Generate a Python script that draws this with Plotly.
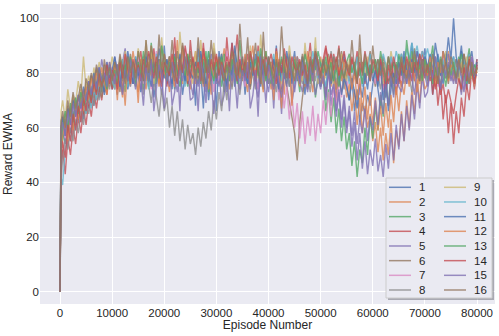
import plotly.graph_objects as go

episodes = [0, 200] + list(range(500, 80001, 500))

labels = [str(i) for i in range(1, 17)]
colors = ["#4C72B0", "#DD8452", "#55A868", "#C44E52", "#8172B3", "#937860",
          "#DA8BC3", "#8C8C8C", "#CCB974", "#64B5CD", "#4C72B0", "#DD8452",
          "#55A868", "#C44E52", "#8172B3", "#937860"]

s1 = [0, 58,
      60, 54, 63, 58, 66, 61, 64, 69, 63, 70,
      67, 73, 68, 75, 71, 78, 72, 76, 81, 74,
      79, 72, 83, 77, 85, 74, 80, 76, 86, 79,
      73, 81, 88, 77, 83, 71, 79, 85, 80, 90,
      76, 82, 74, 87, 79, 84, 72, 80, 86, 78,
      83, 68, 89, 81, 67, 85, 70, 79, 84, 66,
      88, 80, 73, 82, 78, 91, 75, 83, 79, 86,
      72, 81, 77, 85, 80, 74, 87, 79, 83, 76,
      84, 78, 90, 73, 82, 79, 86, 75, 81, 88,
      77, 84, 80, 72, 85, 78, 83, 89, 76, 81,
      79, 74, 86, 81, 77, 71, 83, 78, 87, 75,
      70, 78, 66, 74, 62, 69, 65, 72, 68, 76,
      81, 73, 67, 77, 71, 80, 75, 84, 78, 86,
      80, 88, 76, 83, 91, 79, 85, 77, 82, 89,
      78, 84, 72, 81, 87, 80, 76, 85, 79, 83,
      86, 77, 82, 90, 79, 74, 84, 88, 80, 85]
s2 = [0, 52,
      58, 64, 56, 67, 60, 70, 63, 66, 72, 65,
      71, 68, 76, 70, 79, 73, 77, 82, 75, 80,
      74, 83, 78, 71, 86, 80, 76, 84, 79, 73,
      85, 79, 74, 82, 88, 77, 83, 75, 81, 87,
      80, 73, 84, 78, 92, 81, 76, 85, 79, 74,
      82, 88, 77, 83, 75, 86, 80, 72, 84, 78,
      76, 83, 89, 79, 74, 82, 87, 81, 77, 85,
      79, 73, 84, 90, 78, 83, 76, 81, 88, 80,
      74, 82, 77, 85, 80, 72, 86, 79, 83, 76,
      84, 78, 81, 75, 88, 80, 73, 83, 79, 86,
      78, 72, 80, 75, 83, 70, 77, 73, 79, 71,
      76, 66, 74, 61, 71, 58, 68, 60, 65, 55,
      62, 51, 60, 48, 58, 50, 63, 47, 59, 53,
      66, 55, 70, 60, 74, 65, 78, 69, 81, 74,
      76, 83, 79, 86, 80, 74, 84, 78, 88, 82,
      77, 85, 80, 73, 83, 79, 87, 81, 76, 84]
s3 = [0, 61,
      55, 62, 58, 66, 60, 68, 63, 71, 65, 73,
      69, 75, 71, 78, 73, 80, 76, 74, 82, 77,
      81, 75, 84, 79, 73, 86, 78, 82, 76, 88,
      80, 74, 83, 78, 91, 81, 76, 85, 79, 84,
      77, 86, 80, 74, 83, 78, 89, 82, 75, 81,
      85, 79, 76, 84, 80, 88, 73, 82, 78, 86,
      81, 75, 87, 79, 83, 77, 85, 80, 92, 78,
      84, 80, 75, 83, 78, 86, 81, 74, 88, 79,
      76, 85, 79, 82, 74, 87, 80, 84, 77, 83,
      80, 73, 86, 78, 82, 76, 84, 71, 79, 75,
      78, 66, 74, 62, 71, 58, 67, 55, 64, 52,
      58, 46, 55, 42, 52, 47, 60, 50, 64, 56,
      68, 59, 72, 64, 77, 68, 80, 72, 84, 76,
      85, 79, 83, 76, 88, 81, 78, 86, 80, 84,
      77, 83, 90, 79, 85, 74, 82, 87, 80, 78,
      84, 79, 86, 81, 76, 83, 89, 78, 82, 80]
s4 = [0, 45,
      52, 43, 56, 50, 60, 54, 64, 58, 67, 61,
      70, 64, 73, 67, 75, 70, 78, 72, 80, 74,
      77, 83, 79, 74, 86, 80, 77, 84, 78, 82,
      88, 79, 84, 76, 82, 89, 80, 85, 78, 83,
      75, 84, 80, 93, 78, 83, 90, 81, 76, 92,
      82, 78, 86, 80, 91, 79, 84, 77, 88, 81,
      85, 80, 77, 93, 82, 75, 84, 94, 79, 83,
      78, 87, 81, 84, 76, 90, 82, 79, 86, 80,
      84, 77, 89, 81, 85, 78, 83, 87, 80, 76,
      86, 82, 79, 88, 83, 91, 80, 85, 78, 84,
      81, 89, 84, 78, 87, 82, 90, 79, 85, 83,
      77, 85, 81, 88, 79, 84, 76, 82, 87, 80,
      83, 78, 86, 74, 81, 76, 84, 79, 72, 80,
      75, 83, 78, 86, 81, 77, 84, 80, 88, 82,
      79, 85, 72, 81, 68, 77, 63, 72, 58, 69,
      54, 66, 58, 71, 64, 76, 70, 82, 74, 85]
s5 = [0, 63,
      57, 65, 60, 68, 63, 71, 66, 73, 69, 76,
      72, 79, 75, 82, 77, 85, 79, 74, 83, 78,
      86, 80, 75, 84, 89, 78, 82, 76, 85, 80,
      74, 83, 78, 87, 81, 75, 84, 79, 72, 82,
      77, 85, 68, 73, 84, 66, 88, 76, 82, 70,
      71, 80, 75, 84, 78, 73, 82, 87, 79, 76,
      83, 68, 72, 81, 66, 85, 79, 67, 83, 80,
      86, 79, 75, 82, 77, 71, 80, 84, 78, 73,
      81, 67, 85, 79, 65, 83, 78, 88, 69, 75,
      82, 77, 73, 81, 76, 84, 79, 72, 78, 74,
      80, 71, 82, 68, 76, 64, 73, 60, 70, 58,
      66, 53, 62, 48, 58, 45, 55, 43, 52, 46,
      56, 44, 50, 42, 54, 45, 58, 48, 61, 52,
      65, 55, 68, 59, 72, 63, 76, 67, 79, 71,
      73, 81, 77, 85, 79, 74, 83, 78, 87, 80,
      76, 84, 79, 72, 82, 77, 86, 80, 75, 83]
s6 = [0, 57,
      64, 59, 68, 62, 71, 65, 69, 74, 67, 76,
      72, 79, 74, 81, 76, 71, 83, 77, 80, 75,
      84, 78, 73, 85, 80, 76, 87, 81, 78, 83,
      79, 86, 82, 75, 88, 80, 84, 77, 90, 82,
      85, 79, 92, 81, 76, 86, 80, 83, 77, 88,
      81, 84, 78, 87, 82, 75, 85, 79, 89, 83,
      78, 86, 81, 76, 84, 80, 88, 79, 83, 77,
      85, 80, 74, 83, 78, 87, 81, 76, 84, 79,
      82, 77, 85, 79, 73, 81, 75, 70, 64, 58,
      48, 62, 71, 78, 74, 83, 79, 86, 80, 76,
      84, 79, 87, 82, 77, 85, 80, 88, 81, 78,
      83, 76, 81, 86, 79, 84, 77, 82, 88, 80,
      75, 83, 79, 86, 81, 77, 85, 80, 74, 82,
      87, 80, 84, 78, 83, 89, 81, 76, 85, 79,
      82, 86, 80, 77, 84, 79, 88, 82, 76, 83,
      80, 85, 78, 83, 87, 81, 76, 84, 79, 82]
s7 = [0, 54,
      61, 56, 65, 60, 68, 63, 71, 66, 73, 69,
      76, 71, 78, 73, 81, 75, 79, 84, 77, 82,
      78, 73, 84, 79, 87, 80, 75, 83, 78, 86,
      81, 76, 85, 79, 74, 83, 88, 80, 77, 84,
      79, 86, 81, 75, 84, 78, 82, 89, 80, 76,
      84, 78, 83, 76, 87, 81, 79, 85, 73, 82,
      77, 85, 80, 88, 82, 76, 84, 79, 86, 81,
      75, 83, 78, 86, 80, 74, 82, 77, 85, 79,
      83, 74, 81, 70, 79, 67, 75, 63, 72, 60,
      69, 56, 66, 54, 64, 57, 68, 55, 65, 58,
      70, 61, 73, 64, 76, 68, 79, 71, 82, 74,
      80, 75, 83, 78, 72, 81, 77, 85, 79, 82,
      76, 84, 79, 73, 82, 78, 86, 80, 75, 83,
      78, 85, 81, 76, 84, 79, 88, 82, 77, 84,
      80, 86, 78, 83, 75, 81, 87, 79, 84, 78,
      82, 77, 85, 80, 74, 83, 79, 86, 81, 80]
s8 = [0, 40,
      49, 56, 52, 60, 55, 63, 58, 66, 61, 69,
      65, 72, 68, 75, 70, 77, 73, 79, 74, 81,
      76, 83, 78, 73, 85, 79, 75, 82, 77, 84,
      80, 72, 83, 75, 69, 78, 70, 64, 74, 66,
      71, 60, 68, 57, 66, 55, 63, 52, 61, 54,
      58, 50, 60, 53, 62, 56, 66, 59, 70, 63,
      73, 66, 77, 70, 81, 74, 84, 78, 72, 80,
      82, 77, 85, 79, 74, 83, 78, 86, 80, 76,
      84, 79, 73, 82, 77, 85, 80, 75, 83, 78,
      86, 80, 76, 84, 79, 73, 82, 77, 85, 81,
      78, 84, 79, 88, 81, 76, 85, 80, 74, 83,
      80, 75, 83, 78, 86, 81, 77, 84, 79, 82,
      85, 79, 74, 82, 77, 86, 80, 75, 83, 78,
      81, 76, 85, 79, 73, 82, 78, 87, 80, 84,
      77, 83, 79, 86, 81, 75, 84, 80, 78, 82,
      79, 85, 80, 74, 83, 78, 87, 81, 76, 82]
s9 = [0, 66,
      70, 63, 74, 67, 72, 69, 77, 71, 86, 74,
      79, 73, 82, 76, 84, 78, 75, 83, 79, 86,
      80, 77, 85, 79, 88, 82, 76, 84, 80, 89,
      83, 78, 92, 81, 90, 76, 84, 77, 93, 82,
      79, 86, 81, 84, 78, 95, 83, 80, 87, 81,
      76, 88, 79, 92, 82, 77, 85, 80, 91, 83,
      80, 87, 82, 78, 85, 79, 89, 83, 77, 84,
      81, 76, 90, 80, 84, 78, 94, 82, 79, 85,
      83, 79, 87, 81, 76, 85, 80, 90, 82, 78,
      84, 80, 77, 91, 81, 88, 79, 93, 76, 85,
      82, 78, 86, 80, 75, 84, 79, 87, 81, 77,
      85, 80, 83, 77, 89, 82, 78, 86, 80, 84,
      79, 85, 81, 76, 84, 80, 88, 82, 77, 83,
      86, 81, 78, 85, 80, 87, 82, 76, 84, 79,
      83, 78, 86, 81, 76, 84, 80, 88, 82, 79,
      85, 80, 77, 84, 79, 86, 81, 78, 83, 80]
s10 = [0, 42,
       39, 52, 58, 55, 63, 59, 66, 62, 69, 65,
       72, 67, 74, 70, 77, 73, 79, 75, 81, 77,
       74, 82, 78, 85, 80, 75, 83, 79, 86, 81,
       77, 84, 80, 74, 83, 78, 87, 81, 76, 84,
       80, 86, 79, 83, 77, 85, 81, 75, 84, 79,
       82, 77, 86, 80, 84, 78, 88, 81, 76, 83,
       79, 85, 80, 74, 83, 78, 86, 82, 77, 84,
       81, 76, 85, 79, 83, 88, 80, 75, 84, 78,
       82, 87, 79, 84, 77, 83, 80, 86, 81, 76,
       84, 79, 82, 76, 85, 80, 88, 83, 78, 84,
       80, 75, 83, 78, 86, 81, 77, 84, 79, 82,
       76, 83, 79, 86, 81, 75, 84, 80, 87, 82,
       78, 85, 81, 87, 83, 79, 86, 82, 88, 84,
       87, 83, 89, 85, 91, 86, 90, 84, 88, 85,
       89, 84, 87, 82, 86, 80, 85, 79, 83, 81,
       86, 80, 84, 78, 85, 81, 87, 79, 83, 82]
s11 = [0, 60,
       64, 57, 67, 61, 70, 64, 72, 67, 75, 70,
       77, 72, 80, 75, 82, 77, 73, 84, 78, 81,
       86, 80, 75, 83, 78, 88, 81, 76, 85, 79,
       83, 77, 86, 81, 75, 84, 79, 89, 82, 78,
       85, 80, 76, 84, 79, 87, 82, 77, 86, 80,
       78, 84, 80, 88, 81, 76, 85, 79, 83, 77,
       82, 87, 80, 75, 84, 79, 90, 82, 78, 85,
       80, 76, 84, 79, 87, 81, 75, 83, 78, 86,
       79, 85, 80, 74, 83, 78, 88, 81, 76, 84,
       82, 77, 86, 80, 75, 84, 79, 87, 83, 78,
       85, 79, 83, 76, 81, 74, 80, 72, 78, 75,
       70, 78, 73, 67, 76, 71, 80, 74, 83, 77,
       81, 75, 84, 70, 78, 66, 74, 80, 76, 84,
       79, 86, 81, 77, 85, 80, 88, 83, 78, 86,
       82, 87, 80, 91, 84, 79, 88, 83, 93, 85,
       100, 86, 81, 88, 83, 79, 86, 82, 77, 84]
s12 = [0, 50,
       57, 62, 55, 66, 59, 69, 63, 72, 66, 75,
       70, 78, 73, 80, 75, 82, 77, 72, 84, 79,
       83, 70, 86, 80, 68, 84, 79, 88, 82, 69,
       85, 80, 77, 84, 79, 87, 81, 76, 84, 80,
       78, 86, 81, 75, 83, 79, 89, 82, 77, 85,
       80, 76, 84, 79, 87, 82, 74, 83, 78, 86,
       81, 85, 79, 83, 77, 88, 80, 84, 78, 82,
       87, 81, 76, 84, 80, 86, 79, 73, 82, 78,
       84, 70, 88, 81, 67, 85, 80, 83, 68, 86,
       80, 75, 83, 78, 86, 81, 77, 84, 79, 82,
       76, 83, 79, 85, 80, 74, 82, 77, 84, 79,
       83, 74, 80, 70, 78, 66, 75, 63, 73, 61,
       71, 59, 68, 57, 69, 60, 72, 62, 75, 66,
       77, 72, 81, 75, 84, 78, 73, 82, 77, 85,
       79, 86, 81, 75, 84, 80, 88, 82, 77, 83,
       81, 76, 85, 79, 83, 78, 86, 80, 75, 82]
s13 = [0, 55,
       60, 66, 59, 69, 62, 71, 65, 73, 68, 70,
       75, 70, 78, 73, 81, 76, 79, 74, 83, 78,
       81, 76, 85, 79, 83, 77, 86, 80, 75, 84,
       79, 88, 82, 77, 85, 80, 84, 78, 90, 83,
       77, 84, 80, 86, 81, 75, 83, 79, 87, 82,
       84, 78, 82, 76, 85, 80, 88, 81, 77, 84,
       80, 86, 79, 83, 77, 85, 81, 76, 84, 79,
       83, 78, 87, 81, 85, 79, 89, 82, 77, 84,
       81, 75, 84, 79, 86, 80, 76, 83, 78, 85,
       79, 84, 80, 87, 82, 77, 85, 81, 88, 83,
       80, 86, 79, 84, 77, 82, 75, 81, 78, 84,
       87, 80, 84, 78, 82, 76, 85, 79, 83, 80,
       85, 79, 88, 82, 77, 86, 81, 84, 78, 87,
       82, 78, 92, 84, 80, 86, 79, 83, 77, 85,
       80, 84, 76, 82, 78, 86, 81, 75, 83, 79,
       84, 78, 82, 87, 80, 76, 85, 79, 83, 81]
s14 = [0, 47,
       55, 49, 61, 55, 65, 59, 68, 62, 71, 66,
       74, 69, 77, 72, 80, 75, 78, 83, 76, 81,
       79, 74, 84, 78, 87, 81, 76, 85, 80, 83,
       77, 85, 80, 88, 83, 78, 86, 81, 75, 84,
       82, 79, 87, 81, 76, 85, 80, 90, 83, 78,
       86, 80, 84, 77, 89, 82, 78, 85, 81, 87,
       79, 84, 80, 86, 82, 91, 83, 77, 85, 80,
       84, 78, 88, 82, 77, 86, 81, 85, 79, 83,
       87, 81, 76, 84, 80, 89, 83, 78, 86, 82,
       80, 85, 79, 83, 77, 86, 81, 88, 84, 79,
       85, 90, 83, 87, 81, 86, 79, 84, 88, 82,
       79, 86, 81, 76, 84, 80, 88, 82, 77, 85,
       82, 77, 85, 80, 74, 83, 78, 86, 81, 76,
       84, 79, 86, 81, 77, 84, 80, 87, 82, 78,
       83, 77, 81, 74, 79, 72, 76, 69, 74, 70,
       65, 72, 78, 74, 82, 77, 85, 80, 76, 83]
s15 = [0, 59,
       62, 57, 66, 61, 69, 64, 72, 67, 74, 70,
       77, 72, 79, 74, 82, 77, 80, 75, 84, 79,
       76, 83, 78, 72, 81, 77, 85, 80, 74, 82,
       78, 68, 82, 77, 85, 66, 75, 83, 79, 67,
       80, 75, 84, 78, 73, 82, 77, 86, 81, 76,
       72, 81, 66, 84, 79, 69, 83, 78, 65, 80,
       75, 83, 78, 73, 82, 77, 85, 79, 74, 81,
       77, 84, 67, 72, 81, 64, 86, 80, 69, 83,
       79, 74, 82, 77, 71, 80, 75, 84, 78, 73,
       81, 76, 84, 79, 73, 82, 77, 85, 80, 75,
       79, 70, 81, 72, 76, 66, 74, 63, 72, 60,
       68, 57, 66, 54, 63, 58, 67, 55, 64, 59,
       70, 61, 73, 65, 76, 68, 79, 71, 82, 75,
       73, 80, 76, 83, 78, 72, 81, 77, 85, 79,
       75, 82, 78, 86, 80, 74, 83, 79, 84, 77,
       81, 76, 84, 79, 73, 82, 78, 86, 80, 79]
s16 = [0, 62,
       66, 60, 70, 64, 73, 67, 71, 76, 70, 78,
       74, 80, 76, 83, 78, 73, 85, 79, 82, 77,
       84, 79, 87, 81, 76, 86, 80, 84, 78, 88,
       82, 77, 92, 80, 90, 83, 78, 94, 81, 87,
       80, 86, 82, 77, 88, 81, 91, 84, 79, 85,
       83, 78, 93, 81, 76, 85, 80, 92, 82, 78,
       86, 81, 77, 84, 80, 88, 83, 79, 98, 84,
       80, 93, 78, 83, 91, 81, 76, 95, 79, 86,
       82, 78, 85, 80, 97, 83, 78, 86, 81, 77,
       84, 79, 87, 82, 76, 85, 80, 88, 83, 78,
       85, 80, 83, 77, 86, 81, 89, 82, 78, 84,
       80, 92, 81, 76, 94, 79, 87, 82, 77, 90,
       81, 85, 79, 84, 78, 86, 80, 76, 83, 79,
       86, 81, 78, 84, 80, 88, 82, 77, 85, 80,
       83, 79, 87, 81, 76, 85, 80, 84, 78, 86,
       82, 78, 85, 80, 87, 81, 76, 84, 79, 82]

series = [s1, s2, s3, s4, s5, s6, s7, s8, s9, s10, s11, s12, s13, s14, s15, s16]
for s in series:
    assert len(s) == len(episodes), len(s)

x_ticks = list(range(0, 80001, 10000))
y_ticks = list(range(0, 101, 20))

FONT = "Liberation Sans, Arial, sans-serif"
TXT = "#262626"
ALPHA = 0.8


def rgba(hexc, a):
    h = hexc.lstrip("#")
    return "rgba(%d,%d,%d,%.2f)" % (int(h[0:2], 16), int(h[2:4], 16), int(h[4:6], 16), a)


fig = go.Figure()
for lab, col, ys in zip(labels, colors, series):
    fig.add_trace(go.Scatter(x=episodes, y=ys, mode="lines", name=lab,
                             line=dict(color=rgba(col, ALPHA), width=1.4),
                             showlegend=False, hoverinfo="skip"))

# figure geometry (pixels)
W, H = 499, 336
L, R, T, B = 40, 4, 4, 32
PW, PH = W - L - R, H - T - B


def px(xp):
    return (xp - L) / PW


def py(yp):
    return (H - B - yp) / PH


shapes = []
# legend shadow and frame
shapes.append(dict(type="rect", xref="paper", yref="paper", layer="above",
                   x0=px(388), x1=px(494), y0=py(300), y1=py(180),
                   fillcolor="rgba(90,90,100,0.45)", line=dict(width=0)))
shapes.append(dict(type="rect", xref="paper", yref="paper", layer="above",
                   x0=px(386), x1=px(492), y0=py(298), y1=py(178),
                   fillcolor="#EAEAF2", line=dict(color="#CCCCCC", width=1)))
annotations = []
for i, (lab, col) in enumerate(zip(labels, colors)):
    c, r = divmod(i, 8)
    yy = 187.3 + r * 14.67
    x0 = 389 + c * 55
    shapes.append(dict(type="line", xref="paper", yref="paper", layer="above",
                       x0=px(x0), x1=px(x0 + 22), y0=py(yy), y1=py(yy),
                       line=dict(color=rgba(col, ALPHA), width=1.5)))
    annotations.append(dict(xref="paper", yref="paper", x=px(x0 + 28), y=py(yy),
                            xanchor="left", yanchor="middle", showarrow=False,
                            text=lab, font=dict(family=FONT, size=11.5, color=TXT)))

fig.update_layout(
    width=W, height=H,
    margin=dict(l=L, r=R, t=T, b=B, autoexpand=False),
    paper_bgcolor="white", plot_bgcolor="#EAEAF2",
    font=dict(family=FONT, size=11.5, color=TXT),
    shapes=shapes, annotations=annotations,
    showlegend=False,
)
fig.update_xaxes(range=[-3840, 83450], tickvals=x_ticks,
                 ticktext=[str(v) for v in x_ticks],
                 showgrid=True, gridcolor="white", gridwidth=1, zeroline=False,
                 showline=False, ticks="", automargin=False,
                 title=dict(text="Episode Number", font=dict(size=12, family=FONT, color=TXT), standoff=2))
fig.update_yaxes(range=[-4.5, 105.2], tickvals=y_ticks,
                 ticktext=[str(v) for v in y_ticks],
                 showgrid=True, gridcolor="white", gridwidth=1, zeroline=False,
                 showline=False, ticks="", automargin=False,
                 title=dict(text="Reward EWMA", font=dict(size=12, family=FONT, color=TXT), standoff=4))

fig.write_html("out.html", config={"displayModeBar": False},
               post_script="document.body.style.margin='0';document.body.style.overflow='hidden';")
